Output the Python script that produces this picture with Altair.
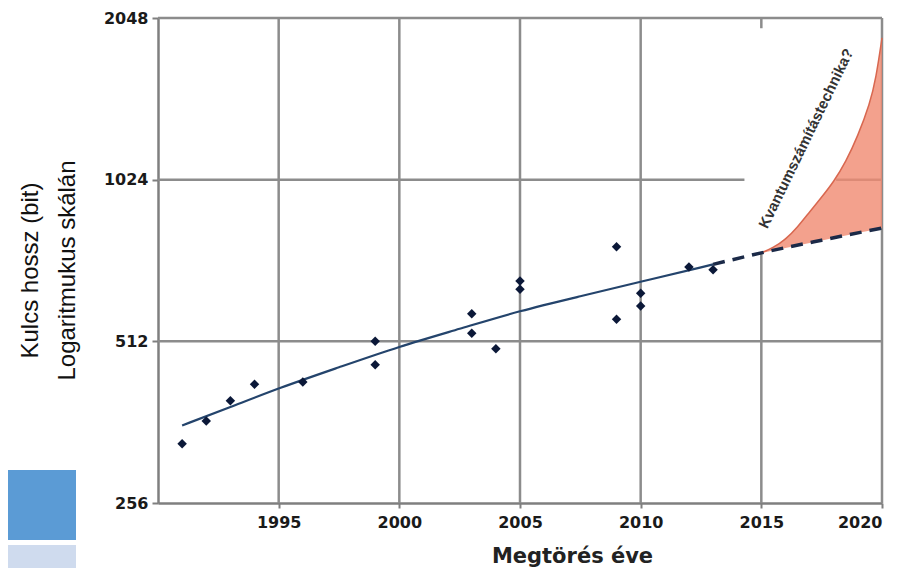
import altair as alt
import pandas as pd

# RSA factoring records (year broken, key length in bits)
years = [1991, 1992, 1993, 1994, 1996, 1999, 1999, 2003, 2003, 2004, 2005, 2005, 2009, 2009, 2010, 2010, 2012, 2013]
bits = [330, 364, 397, 426, 430, 463, 512, 530, 576, 496, 640, 663, 563, 768, 596, 629, 704, 696]

# fitted trend (solid) and its extrapolation (dashed)
fit_years = [1991, 1993, 1995, 1997.5, 2000, 2002.5, 2005, 2007.5, 2010, 2013]
fit_bits = [357, 386, 419, 458, 501, 540, 584, 621, 661, 712]
ext_years = [2013, 2015, 2017.5, 2020]
ext_bits = [712, 748, 790, 832]

# quantum-computing band
band_years = [2015, 2015.5, 2016, 2016.5, 2017, 2017.5, 2018, 2018.5, 2019, 2019.5, 2019.75, 2020]
band_upper = [748, 765, 792, 835, 892, 950, 1015, 1105, 1235, 1420, 1580, 1880]
band_lower = [748, 756, 764, 772, 781, 789, 798, 806, 815, 823, 828, 832]

# grid segments
grid_x1 = [1995, 2000, 2005, 2010, 2015, 2015, 2020, 1990, 1990, 2018.1, 1990]
grid_x2 = [1995, 2000, 2005, 2010, 2015, 2015, 2020, 2020, 2014.3, 2020, 2020]
grid_y1 = [256, 256, 256, 256, 256, 1960, 256, 512, 1024, 1024, 2048]
grid_y2 = [2048, 2048, 2048, 2048, 748, 2048, 2048, 512, 1024, 1024, 2048]

x_ticks = [1995, 2000, 2005, 2010, 2015, 2020]
y_ticks = [256, 512, 1024, 2048]

annot_text = ["Kvantumszámítástechnika?"]
annot_year = [2016.85]
annot_bits = [1222]

xscale = alt.Scale(domain=[1990, 2020], nice=False, zero=False)
yscale = alt.Scale(type="log", base=2, domain=[256, 2048], nice=False)

LABEL_FONT = "DejaVu Sans"
AX = "#7f7f7f"

xaxis = alt.Axis(values=x_ticks, format="d", grid=False, domain=True, domainColor=AX,
                 domainWidth=2.5, tickColor=AX, tickSize=5, tickWidth=2,
                 labelFont=LABEL_FONT, labelFontWeight="bold", labelFontSize=16,
                 labelColor="#1a1a1a", labelPadding=6,
                 title="Megtörés éve", titleFont=LABEL_FONT, titleFontSize=21,
                 titleFontWeight="bold", titleColor="#222222",
                 titleX=414, titleY=59, titleBaseline="alphabetic", titleAlign="center")
yaxis = alt.Axis(values=y_ticks, format="d", grid=False, domain=True, domainColor=AX,
                 domainWidth=2.5, tickColor=AX, tickSize=6, tickWidth=2,
                 labelFont=LABEL_FONT, labelFontWeight="bold", labelFontSize=16,
                 labelColor="#1a1a1a", labelPadding=4,
                 title=["Kulcs hossz (bit)", "Logaritmukus skálán"],
                 titleFont="Liberation Sans", titleFontSize=24,
                 titleFontWeight="normal", titleColor="#111111", titleLineHeight=37,
                 titleAngle=270, titleX=-128, titleY=252, titleAlign="center",
                 titleBaseline="middle")

grid_df = pd.DataFrame({"x1": grid_x1, "x2": grid_x2, "y1": grid_y1, "y2": grid_y2})
grid = alt.Chart(grid_df).mark_rule(color="#8c8c8c", strokeWidth=2.5).encode(
    x=alt.X("x1:Q", scale=xscale, axis=xaxis),
    x2="x2:Q",
    y=alt.Y("y1:Q", scale=yscale, axis=yaxis),
    y2="y2:Q",
)

band_df = pd.DataFrame({"year": band_years, "upper": band_upper, "lower": band_lower})
band = alt.Chart(band_df).mark_area(color="#f08a70", opacity=0.8, interpolate="basis").encode(
    x=alt.X("year:Q", scale=xscale), y=alt.Y("upper:Q", scale=yscale), y2="lower:Q")
band_edge = alt.Chart(band_df).mark_line(color="#d8674f", strokeWidth=1.5, interpolate="basis").encode(
    x=alt.X("year:Q", scale=xscale), y=alt.Y("upper:Q", scale=yscale))

fit_df = pd.DataFrame({"year": fit_years, "bits": fit_bits})
fit = alt.Chart(fit_df).mark_line(color="#24446c", strokeWidth=2.2, interpolate="basis").encode(
    x=alt.X("year:Q", scale=xscale), y=alt.Y("bits:Q", scale=yscale))

ext_df = pd.DataFrame({"year": ext_years, "bits": ext_bits})
ext = alt.Chart(ext_df).mark_line(color="#1b2a48", strokeWidth=3.5, strokeDash=[12, 8],
                                  interpolate="monotone").encode(
    x=alt.X("year:Q", scale=xscale), y=alt.Y("bits:Q", scale=yscale))

pts_df = pd.DataFrame({"year": years, "bits": bits})
pts = alt.Chart(pts_df).mark_point(shape="diamond", filled=True, size=90, color="#0b1838", opacity=1).encode(
    x=alt.X("year:Q", scale=xscale), y=alt.Y("bits:Q", scale=yscale))

ann_df = pd.DataFrame({"year": annot_year, "bits": annot_bits, "t": annot_text})
ann = alt.Chart(ann_df).mark_text(angle=296, font="Liberation Sans", fontSize=15,
                                  fontWeight="bold", color="#333333", align="center",
                                  baseline="middle").encode(
    x=alt.X("year:Q", scale=xscale), y=alt.Y("bits:Q", scale=yscale), text="t:N")

one = pd.DataFrame({"k": [0]})
deco1 = alt.Chart(one).mark_rect(color="#5b9bd5").encode(
    x=alt.value(-150), x2=alt.value(-82), y=alt.value(452), y2=alt.value(522))
deco2 = alt.Chart(one).mark_rect(color="#cfdbee").encode(
    x=alt.value(-150), x2=alt.value(-82), y=alt.value(527), y2=alt.value(558))

chart = alt.layer(grid, band, band_edge, fit, ext, pts, ann, deco1, deco2).properties(
    width=724, height=485,
    autosize=alt.AutoSizeParams(type="none"),
    padding={"left": 150, "top": 10, "right": 22, "bottom": 65},
).configure_view(stroke=None).configure(background="white")

chart.save("out.html", embed_options={"renderer": "svg", "actions": False})
